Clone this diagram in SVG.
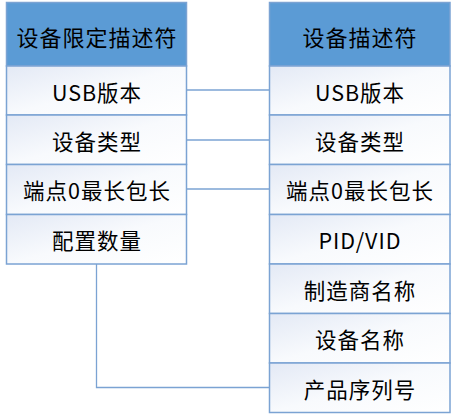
<svg xmlns="http://www.w3.org/2000/svg" width="456" height="414" viewBox="0 0 456 414">
<defs>
<linearGradient id="rowg" x1="0" y1="0" x2="1" y2="1">
<stop offset="0" stop-color="#E3E9F5"/>
<stop offset="0.5" stop-color="#F8FAFD"/>
<stop offset="1" stop-color="#FFFFFF"/>
</linearGradient>
</defs>
<style>
.hd{fill:#5B9BD5;stroke:#7BA3D3;stroke-width:1.5}
.row{fill:url(#rowg);stroke:#7BA3D3;stroke-width:1.5}
.ht{font-family:"Noto Sans CJK SC","Liberation Sans",sans-serif;font-size:22px;letter-spacing:1px;fill:#000;text-anchor:middle;dominant-baseline:central}
.rt{font-family:"Noto Sans CJK SC","Liberation Sans",sans-serif;font-size:21.5px;letter-spacing:1px;fill:#000;text-anchor:middle;dominant-baseline:central}
.cn{fill:none;stroke:#7BA3D3;stroke-width:1.3}
</style>
<g id="connectors">
<line class="cn" x1="186" y1="90" x2="269" y2="90"/>
<line class="cn" x1="186" y1="140" x2="269" y2="140"/>
<line class="cn" x1="186" y1="189" x2="269" y2="189"/>
<polyline class="cn" points="96.5,264 96.5,387.5 269,387.5"/>
</g>
<g id="left-header"><rect class="hd" x="6.5" y="2.5" width="180" height="63.5"/><text class="ht" x="97" y="36">设备限定描述符</text></g>
<g id="left-usb"><rect class="row" x="6.5" y="66" width="180" height="49"/><text class="rt" x="97" y="91">USB版本</text></g>
<g id="left-type"><rect class="row" x="6.5" y="115" width="180" height="49.5"/><text class="rt" x="97" y="140">设备类型</text></g>
<g id="left-ep0"><rect class="row" x="6.5" y="164.5" width="180" height="50"/><text class="rt" x="97" y="189.5">端点0最长包长</text></g>
<g id="left-cfg"><rect class="row" x="6.5" y="214.5" width="180" height="49.5"/><text class="rt" x="97" y="239.5">配置数量</text></g>
<g id="right-header"><rect class="hd" x="269.5" y="2.5" width="180.5" height="63.5"/><text class="ht" x="360" y="36">设备描述符</text></g>
<g id="right-usb"><rect class="row" x="269.5" y="66" width="180.5" height="49"/><text class="rt" x="360" y="91">USB版本</text></g>
<g id="right-type"><rect class="row" x="269.5" y="115" width="180.5" height="49.5"/><text class="rt" x="360" y="140">设备类型</text></g>
<g id="right-ep0"><rect class="row" x="269.5" y="164.5" width="180.5" height="50"/><text class="rt" x="360" y="189.5">端点0最长包长</text></g>
<g id="right-pid"><rect class="row" x="269.5" y="214.5" width="180.5" height="49.5"/><text class="rt" x="360" y="239.5">PID/VID</text></g>
<g id="right-mfr"><rect class="row" x="269.5" y="264" width="180.5" height="49.5"/><text class="rt" x="360" y="289">制造商名称</text></g>
<g id="right-name"><rect class="row" x="269.5" y="313.5" width="180.5" height="49.5"/><text class="rt" x="360" y="338.5">设备名称</text></g>
<g id="right-sn"><rect class="row" x="269.5" y="363" width="180.5" height="49.5"/><text class="rt" x="360" y="388">产品序列号</text></g>
</svg>
